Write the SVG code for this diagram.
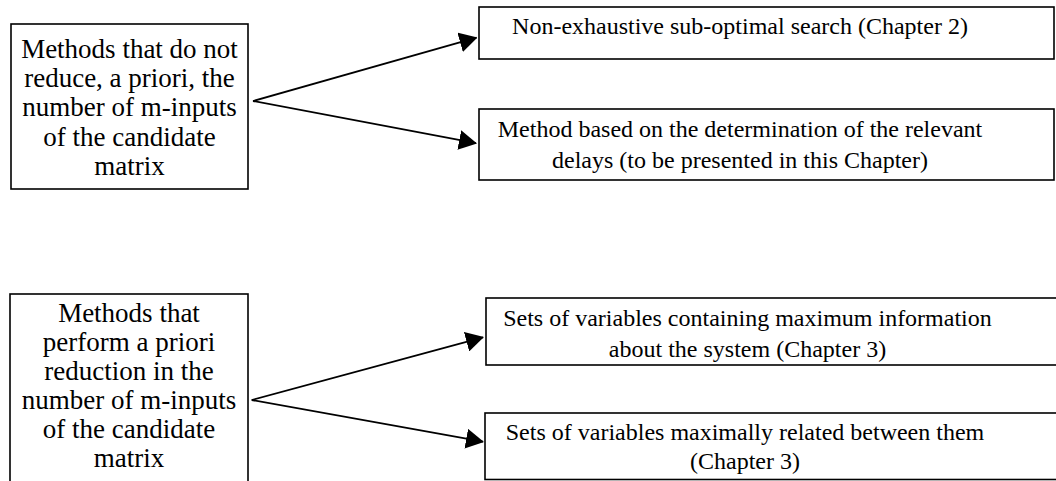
<svg xmlns="http://www.w3.org/2000/svg" width="1056" height="481" viewBox="0 0 1056 481">
<style>
.box{fill:#fff;stroke:#000;stroke-width:1.6}
.t{font-family:'Liberation Serif','Times New Roman','DejaVu Serif',serif;fill:#000;text-anchor:middle}
.l{font-size:27px}
.r{font-size:24px}
.c{stroke:#000;stroke-width:1.8;fill:none;marker-end:url(#ah)}
</style>
<defs>
<marker id="ah" markerUnits="userSpaceOnUse" viewBox="0 0 18 20" refX="17" refY="10" markerWidth="18" markerHeight="20" orient="auto">
<path d="M0,0 L18,10 L0,20 z" fill="#000"/>
</marker>
</defs>
<rect width="1056" height="481" fill="#fff"/>
<g id="n1">
<rect class="box" x="11" y="24" width="237" height="165"/>
<text class="t l" x="129.5" y="57.5">Methods that do not</text>
<text class="t l" x="129.5" y="87">reduce, a priori, the</text>
<text class="t l" x="129.5" y="116">number of m-inputs</text>
<text class="t l" x="129.5" y="145.5">of the candidate</text>
<text class="t l" x="129.5" y="175">matrix</text>
</g>
<g id="n2">
<rect class="box" x="479" y="7" width="575" height="52"/>
<text class="t r" x="740" y="34">Non-exhaustive sub-optimal search (Chapter 2)</text>
</g>
<g id="n3">
<rect class="box" x="479" y="109" width="575" height="71"/>
<text class="t r" x="740" y="137">Method based on the determination of the relevant</text>
<text class="t r" x="740" y="168">delays (to be presented in this Chapter)</text>
</g>
<g id="n4">
<rect class="box" x="10" y="294" width="238" height="200"/>
<text class="t l" x="129" y="322">Methods that</text>
<text class="t l" x="129" y="351">perform a priori</text>
<text class="t l" x="129" y="380">reduction in the</text>
<text class="t l" x="129" y="409">number of m-inputs</text>
<text class="t l" x="129" y="438">of the candidate</text>
<text class="t l" x="129" y="467">matrix</text>
</g>
<g id="n5">
<rect class="box" x="486" y="298" width="580" height="67"/>
<text class="t r" x="747.5" y="326">Sets of variables containing maximum information</text>
<text class="t r" x="747.5" y="356.5">about the system (Chapter 3)</text>
</g>
<g id="n6">
<rect class="box" x="485" y="413" width="580" height="66.5"/>
<text class="t r" x="745" y="440">Sets of variables maximally related between them</text>
<text class="t r" x="745" y="469">(Chapter 3)</text>
</g>
<g id="connectors">
<line class="c" x1="253" y1="101" x2="476.5" y2="37.7"/>
<line class="c" x1="253" y1="101" x2="476" y2="143.2"/>
<line class="c" x1="251.7" y1="400" x2="483" y2="337.3"/>
<line class="c" x1="251.7" y1="400" x2="483" y2="441.7"/>
</g>
</svg>
